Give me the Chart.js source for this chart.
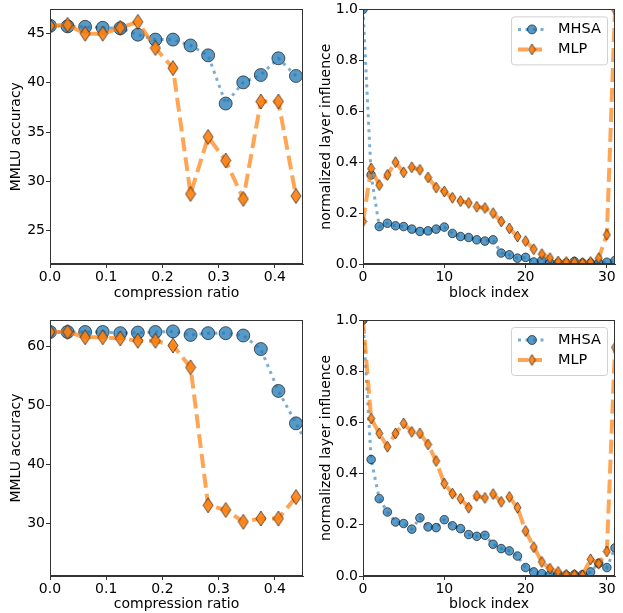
<!DOCTYPE html>
<html>
<head>
<meta charset="utf-8">
<script src="https://cdn.jsdelivr.net/npm/chart.js@4.4.1/dist/chart.umd.min.js"></script>
<style>
  body { margin: 0; background: #fff; }
  #wrap { position: relative; width: 623px; height: 613px; overflow: hidden; }
  canvas { position: absolute; }
</style>
</head>
<body>
<div id="wrap">
  <canvas id="tl" width="311" height="306" style="left:0;top:0"></canvas>
  <canvas id="tr" width="312" height="306" style="left:311px;top:0"></canvas>
  <canvas id="bl" width="311" height="307" style="left:0;top:306px"></canvas>
  <canvas id="br" width="312" height="307" style="left:311px;top:306px"></canvas>
</div>
<script>
// x values
const ratios = [0, 0.03125, 0.0625, 0.09375, 0.125, 0.15625, 0.1875, 0.21875, 0.25,
  0.28125, 0.3125, 0.34375, 0.375, 0.40625, 0.4375, 0.46875];
const blocks = [0, 1, 2, 3, 4, 5, 6, 7, 8, 9, 10, 11, 12, 13, 14, 15,
  16, 17, 18, 19, 20, 21, 22, 23, 24, 25, 26, 27, 28, 29, 30, 31];

// top left: MMLU accuracy vs compression ratio
const tlMhsa = [45.8, 45.75, 45.7, 45.6, 45.55, 44.9, 44.4, 44.4, 43.8, 42.8, 37.9, 40.05, 40.8, 42.5, 40.7];
const tlMlp = [45.8, 45.9, 45.0, 45.0, 45.6, 46.2, 43.55, 41.5, 28.7, 34.5, 32.1, 28.2, 38.1, 38.1, 28.5];

// top right: normalized layer influence
const trMhsa = [1.0, 0.35, 0.147, 0.16, 0.15, 0.147, 0.137, 0.128, 0.13, 0.137, 0.145, 0.12, 0.108, 0.104,
  0.095, 0.09, 0.095, 0.043, 0.036, 0.023, 0.026, 0.008, 0.014, 0.004, 0.004, 0.004, 0.01, 0.004,
  0.004, 0.004, 0.007, 0.014];
const trMlp = [0.167, 0.375, 0.31, 0.35, 0.40, 0.36, 0.38, 0.37, 0.34, 0.30, 0.285, 0.26, 0.247, 0.24,
  0.225, 0.22, 0.20, 0.167, 0.14, 0.108, 0.09, 0.058, 0.039, 0.023, 0.01, 0.008, 0.008, 0.004,
  0.008, 0.023, 0.115, 1.0];

// bottom left
const blMhsa = [62.5, 62.5, 62.5, 62.5, 62.3, 62.4, 62.5, 62.6, 62.0, 62.3, 62.3, 61.9, 59.6, 52.5, 47.0, 41.5];
const blMlp = [62.5, 62.5, 61.6, 61.6, 61.4, 61.0, 61.0, 60.2, 56.5, 33.1, 32.3, 30.3, 30.85, 30.85, 34.5, 33.6];

// bottom right
const brMhsa = [1.0, 0.455, 0.302, 0.25, 0.211, 0.205, 0.183, 0.227, 0.192, 0.189, 0.22, 0.196, 0.185, 0.162,
  0.155, 0.159, 0.124, 0.107, 0.098, 0.078, 0.033, 0.016, 0.009, 0.005, 0.005, 0.003, 0.005, 0.005,
  0.016, 0.05, 0.033, 0.11];
const brMlp = [1.0, 0.615, 0.557, 0.505, 0.557, 0.596, 0.563, 0.557, 0.514, 0.449, 0.361, 0.322, 0.302, 0.267,
  0.313, 0.305, 0.32, 0.29, 0.309, 0.267, 0.176, 0.113, 0.055, 0.029, 0.016, 0.005, 0.005, 0.003,
  0.065, 0.048, 0.096, 0.893];

// tick labels
const ratioTicks = [0.0, 0.1, 0.2, 0.3, 0.4];
const blockTicks = [0, 10, 20, 30];
const tlAccTicks = [25, 30, 35, 40, 45];
const blAccTicks = [30, 40, 50, 60];
const influenceTicks = [0.0, 0.2, 0.4, 0.6, 0.8, 1.0];

const seriesNames = ['MHSA', 'MLP'];

const FONT = 'DejaVu Sans';
const AXIS = '#333';
const blueLine = 'rgba(31,119,180,0.6)';
const blueFill = 'rgba(31,119,180,0.75)';
const orangeLine = 'rgba(255,127,14,0.7)';
const edge = 'rgba(0,0,0,0.6)';

// thin diamond marker like matplotlib 'd'
function diamond(w, h) {
  const c = document.createElement('canvas');
  c.width = w + 2;
  c.height = h + 2;
  const g = c.getContext('2d');
  g.beginPath();
  g.moveTo(c.width / 2, 1);
  g.lineTo(w + 1, c.height / 2);
  g.lineTo(c.width / 2, h + 1);
  g.lineTo(1, c.height / 2);
  g.closePath();
  g.fillStyle = 'rgba(255,127,14,0.9)';
  g.fill();
  g.strokeStyle = edge;
  g.lineWidth = 1;
  g.stroke();
  return c;
}
const bigDiamond = diamond(10, 15);
const smallDiamond = diamond(7, 11);

function toXY(xs, ys) {
  return ys.map((v, i) => ({ x: xs[i], y: v }));
}

// full box around plot area
const frame = {
  id: 'frame',
  afterDatasetsDraw(chart) {
    const a = chart.chartArea, ctx = chart.ctx;
    ctx.save();
    ctx.strokeStyle = AXIS;
    ctx.lineWidth = 1;
    ctx.strokeRect(Math.round(a.left) + 0.5, Math.round(a.top) + 0.5,
      Math.round(a.right - a.left) - 1, Math.round(a.bottom - a.top) - 1);
    ctx.restore();
  }
};

// matplotlib style legend box (line + marker)
const boxLegend = {
  id: 'boxLegend',
  afterDraw(chart) {
    if (!chart.options.plugins.boxLegend || !chart.options.plugins.boxLegend.show) return;
    const a = chart.chartArea, ctx = chart.ctx;
    const x0 = a.right - 104, y0 = a.top + 7, w = 96, h = 48;
    ctx.save();
    ctx.beginPath();
    ctx.roundRect(x0 + 0.5, y0 + 0.5, w, h, 3);
    ctx.fillStyle = 'rgba(255,255,255,0.8)';
    ctx.fill();
    ctx.strokeStyle = '#d0d0d0';
    ctx.lineWidth = 1;
    ctx.stroke();
    const rows = [y0 + 13, y0 + 33];
    const lx0 = x0 + 7, lx1 = x0 + 35, mx = x0 + 21;
    // MHSA
    ctx.strokeStyle = blueLine;
    ctx.lineWidth = 3;
    ctx.setLineDash([3, 4.5]);
    ctx.beginPath();
    ctx.moveTo(lx0, rows[0]);
    ctx.lineTo(lx1, rows[0]);
    ctx.stroke();
    ctx.setLineDash([]);
    ctx.beginPath();
    ctx.arc(mx, rows[0], 4.5, 0, Math.PI * 2);
    ctx.fillStyle = blueFill;
    ctx.fill();
    ctx.strokeStyle = edge;
    ctx.lineWidth = 1;
    ctx.stroke();
    // MLP
    ctx.strokeStyle = orangeLine;
    ctx.lineWidth = 4;
    ctx.setLineDash([10, 4]);
    ctx.beginPath();
    ctx.moveTo(lx0, rows[1]);
    ctx.lineTo(lx1, rows[1]);
    ctx.stroke();
    ctx.setLineDash([]);
    ctx.drawImage(smallDiamond, mx - smallDiamond.width / 2, rows[1] - smallDiamond.height / 2);
    // text
    ctx.fillStyle = '#000';
    ctx.font = '14.5px "' + FONT + '"';
    ctx.textBaseline = 'middle';
    ctx.fillText(seriesNames[0], x0 + 47, rows[0]);
    ctx.fillText(seriesNames[1], x0 + 47, rows[1]);
    ctx.restore();
  }
};

function makeChart(id, opt) {
  const big = opt.big;
  return new Chart(document.getElementById(id), {
    type: 'line',
    data: {
      datasets: [
        {
          label: seriesNames[0],
          data: opt.mhsa,
          order: 1,
          borderColor: blueLine,
          borderWidth: 3,
          borderDash: [3, 4.5],
          pointStyle: 'circle',
          pointRadius: big ? 6.5 : 4.3,
          pointBackgroundColor: blueFill,
          pointBorderColor: edge,
          pointBorderWidth: 1,
          tension: 0
        },
        {
          label: seriesNames[1],
          data: opt.mlp,
          order: 0,
          borderColor: orangeLine,
          borderWidth: 4,
          borderDash: [14, 6],
          pointStyle: big ? bigDiamond : smallDiamond,
          tension: 0
        }
      ]
    },
    options: {
      responsive: false,
      animation: false,
      events: [],
      layout: { padding: { top: opt.padTop, right: opt.padRight, left: 0, bottom: 0 } },
      scales: {
        x: {
          type: 'linear',
          min: opt.xMin,
          max: opt.xMax,
          afterBuildTicks: (s) => { s.ticks = opt.xTicks.map(v => ({ value: v })); },
          afterFit: (s) => { s.height = opt.xHeight; },
          grid: { display: true, drawOnChartArea: false, drawTicks: true, tickLength: 4, color: AXIS },
          border: { display: true, color: AXIS },
          ticks: {
            color: '#000',
            padding: 1,
            maxRotation: 0,
            font: { family: FONT, size: 14 },
            callback: opt.xFmt
          },
          title: {
            display: true,
            text: opt.xTitle,
            color: '#000',
            font: { family: FONT, size: 14 },
            padding: { top: 0, bottom: opt.xTitlePad }
          }
        },
        y: {
          type: 'linear',
          min: opt.yMin,
          max: opt.yMax,
          afterBuildTicks: (s) => { s.ticks = opt.yTicks.map(v => ({ value: v })); },
          afterFit: (s) => { s.width = opt.yWidth; },
          grid: { display: true, drawOnChartArea: false, drawTicks: true, tickLength: 4, color: AXIS },
          border: { display: true, color: AXIS },
          ticks: {
            color: '#000',
            padding: 1,
            font: { family: FONT, size: 14 },
            callback: opt.yFmt
          },
          title: {
            display: true,
            text: opt.yTitle,
            color: '#000',
            font: { family: FONT, size: 14 },
            padding: { top: opt.yTitlePad, bottom: 0 }
          }
        }
      },
      plugins: {
        legend: { display: false },
        tooltip: { enabled: false },
        boxLegend: { show: opt.legend }
      }
    },
    plugins: [frame, boxLegend]
  });
}

const oneDec = (v) => Number(v).toFixed(1);
const whole = (v) => String(v);

makeChart('tl', {
  big: true, mhsa: toXY(ratios, tlMhsa), mlp: toXY(ratios, tlMlp),
  xMin: 0, xMax: 0.45, xTicks: ratioTicks, xFmt: oneDec, xTitle: 'compression ratio',
  yMin: 21.58, yMax: 47.47, yTicks: tlAccTicks, yFmt: whole, yTitle: 'MMLU accuracy',
  padTop: 8, padRight: 2, yWidth: 50, xHeight: 42, xTitlePad: 4, yTitlePad: 8, legend: false
});
makeChart('tr', {
  big: false, mhsa: toXY(blocks, trMhsa), mlp: toXY(blocks, trMlp),
  xMin: 0, xMax: 31, xTicks: blockTicks, xFmt: whole, xTitle: 'block index',
  yMin: 0, yMax: 1, yTicks: influenceTicks, yFmt: oneDec, yTitle: 'normalized layer influence',
  padTop: 8, padRight: 1, yWidth: 52, xHeight: 42, xTitlePad: 4, yTitlePad: 7, legend: true
});
makeChart('bl', {
  big: true, mhsa: toXY(ratios, blMhsa), mlp: toXY(ratios, blMlp),
  xMin: 0, xMax: 0.45, xTicks: ratioTicks, xFmt: oneDec, xTitle: 'compression ratio',
  yMin: 21.1, yMax: 64.53, yTicks: blAccTicks, yFmt: whole, yTitle: 'MMLU accuracy',
  padTop: 14, padRight: 2, yWidth: 50, xHeight: 37, xTitlePad: 0, yTitlePad: 8, legend: false
});
makeChart('br', {
  big: false, mhsa: toXY(blocks, brMhsa), mlp: toXY(blocks, brMlp),
  xMin: 0, xMax: 31, xTicks: blockTicks, xFmt: whole, xTitle: 'block index',
  yMin: 0, yMax: 1, yTicks: influenceTicks, yFmt: oneDec, yTitle: 'normalized layer influence',
  padTop: 14, padRight: 1, yWidth: 52, xHeight: 37, xTitlePad: 0, yTitlePad: 7, legend: true
});
</script>
</body>
</html>
